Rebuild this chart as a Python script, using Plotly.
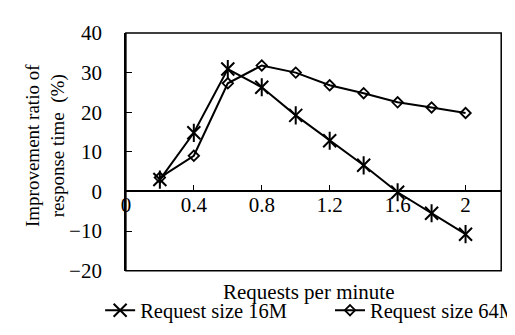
import plotly.graph_objects as go

x_vals = [0.2, 0.4, 0.6, 0.8, 1.0, 1.2, 1.4, 1.6, 1.8, 2.0]
y_16m = [3.0, 14.8, 30.9, 26.3, 19.2, 12.8, 6.6, -0.2, -5.5, -10.8]
y_64m = [3.5, 9.0, 27.3, 31.8, 30.0, 26.8, 24.8, 22.5, 21.2, 19.8]
x_ticks = [0, 0.4, 0.8, 1.2, 1.6, 2]
x_tick_text = ["0", "0.4", "0.8", "1.2", "1.6", "2"]
y_ticks = [-20, -10, 0, 10, 20, 30, 40]

FONT = "Liberation Serif, Times New Roman, serif"
FS_TICK = 21
FS_TEXT = 21
FS_LEG = 20.5
FS_YTITLE = 19

W, H = 515, 335
L, R, T, B = 114, 22, 14, 65


def fx(p):
    return p / W


def fy(p):
    return (H - p) / H


fig = go.Figure()
fig.add_trace(go.Scatter(
    x=x_vals, y=y_16m, mode="lines+markers", name="Request size 16M",
    legend="legend",
    line=dict(color="black", width=2),
    marker=dict(symbol="x-thin-open", size=13, color="black", line=dict(color="black", width=2)),
))
fig.add_trace(go.Scatter(
    x=x_vals, y=y_16m, mode="markers", showlegend=False, hoverinfo="skip",
    marker=dict(symbol="line-ns-open", size=13, color="black", line=dict(color="black", width=2)),
))
fig.add_trace(go.Scatter(
    x=x_vals, y=y_64m, mode="lines+markers", name="Request size 64M",
    legend="legend2",
    line=dict(color="black", width=2),
    marker=dict(symbol="diamond-open", size=8, color="black", line=dict(color="black", width=1.8)),
))

leg_common = dict(
    orientation="h", y=0.002, yanchor="bottom",
    font=dict(family=FONT, size=FS_LEG), bgcolor="rgba(0,0,0,0)",
)

y_dom = [fy(H - B), fy(T)]
zero_pos = y_dom[0] + (y_dom[1] - y_dom[0]) / 3

fig.update_layout(
    width=W, height=H,
    margin=dict(l=0, r=0, t=0, b=0),
    paper_bgcolor="white", plot_bgcolor="white",
    font=dict(family=FONT, size=FS_TICK, color="black"),
    xaxis=dict(
        domain=[fx(L), fx(W - R)],
        range=[0, 2.21], tickvals=x_ticks, ticktext=x_tick_text,
        anchor="free", position=zero_pos,
        showline=True, linecolor="black", linewidth=1.5,
        ticks="inside", ticklen=6, tickwidth=1, tickcolor="black",
        showgrid=False, zeroline=False, ticklabelstandoff=-5,
        tickfont=dict(family=FONT, size=FS_TICK),
    ),
    yaxis=dict(
        domain=y_dom,
        range=[-20, 40], tickvals=y_ticks,
        showline=True, linecolor="black", linewidth=1.5,
        ticks="inside", ticklen=6, tickwidth=1, tickcolor="black",
        showgrid=False, zeroline=False, ticklabelstandoff=18,
        tickfont=dict(family=FONT, size=FS_TICK),
    ),
    showlegend=True,
    legend=dict(x=fx(88), xanchor="left", **leg_common),
    legend2=dict(x=fx(514), xanchor="right", **leg_common),
)

fig.add_shape(type="rect", xref="x domain", yref="y domain", x0=0, x1=1, y0=0, y1=1,
              line=dict(color="black", width=1.5))

fig.add_annotation(
    text="Improvement ratio of<br>response time\u00a0\u00a0(%)",
    xref="paper", yref="paper", x=fx(33), y=fy(135),
    textangle=-90, showarrow=False, font=dict(family=FONT, size=FS_YTITLE),
    xanchor="center", yanchor="middle",
)
fig.add_annotation(
    text="Requests per minute", xref="paper", yref="paper",
    x=fx(298), y=fy(293), showarrow=False,
    font=dict(family=FONT, size=FS_TEXT), xanchor="center", yanchor="middle",
)

fig.write_html("out.html")
